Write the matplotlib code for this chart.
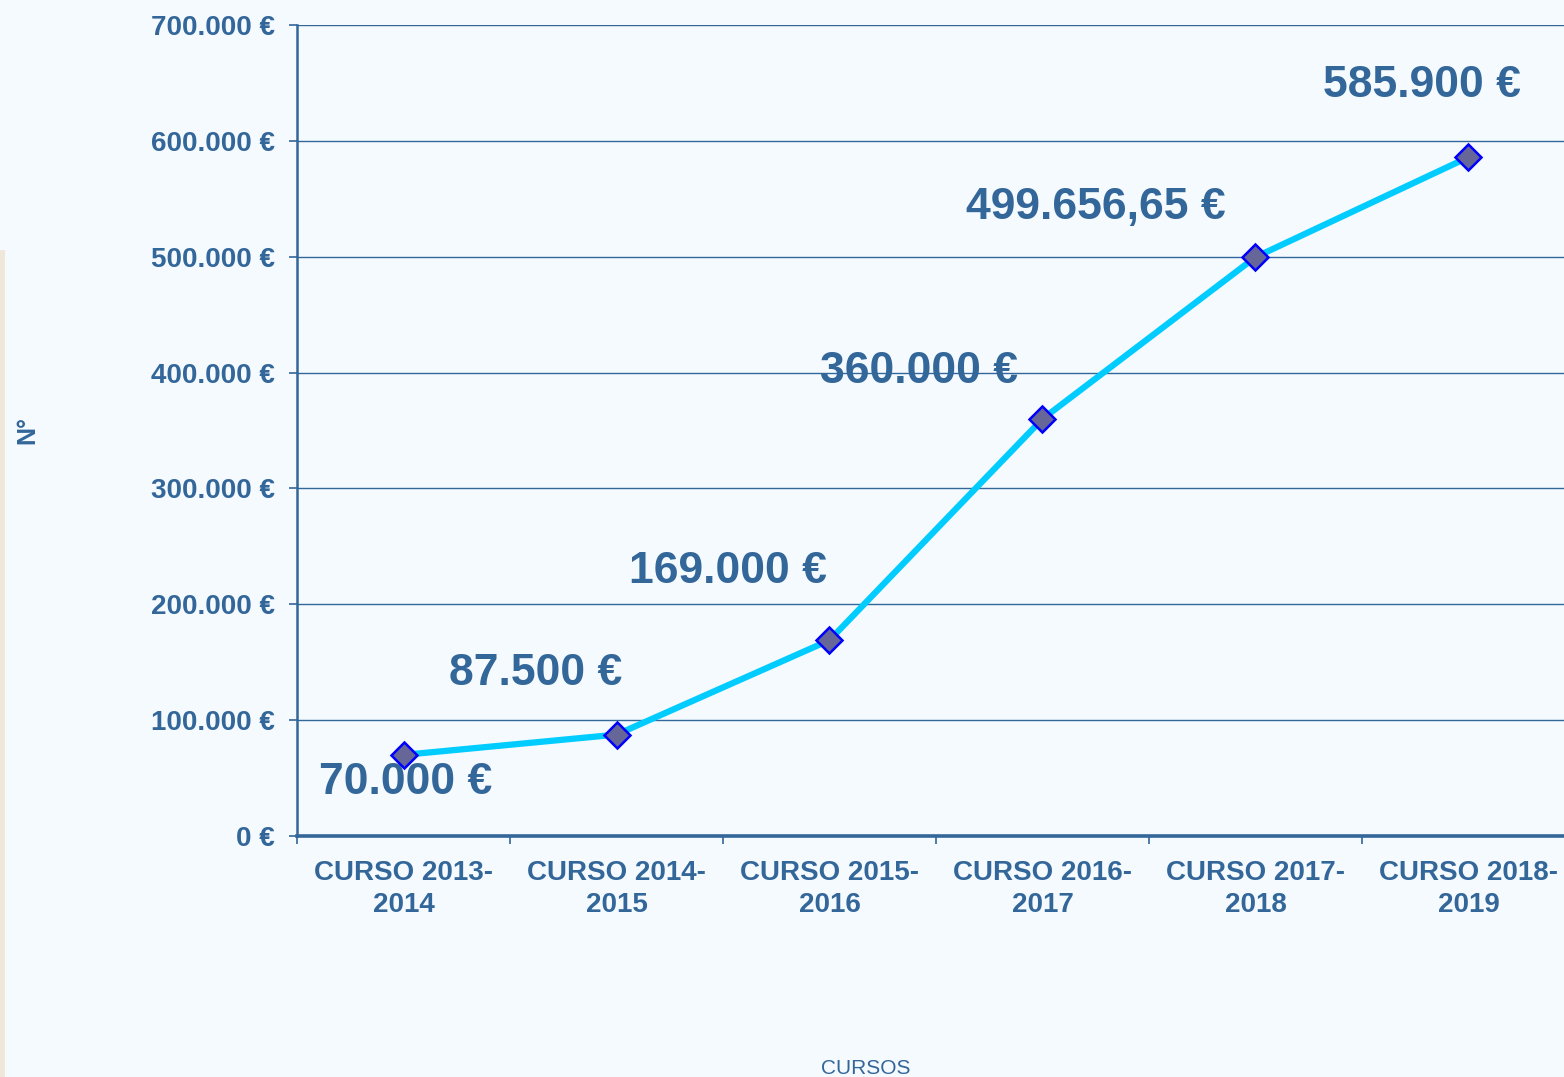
import matplotlib
matplotlib.use("Agg")
import matplotlib.pyplot as plt
from matplotlib.patches import Rectangle

categories = ["CURSO 2013-\n2014", "CURSO 2014-\n2015", "CURSO 2015-\n2016",
              "CURSO 2016-\n2017", "CURSO 2017-\n2018", "CURSO 2018-\n2019"]
values = [70000, 87500, 169000, 360000, 499656.65, 585900]
value_labels = ["70.000 €", "87.500 €", "169.000 €", "360.000 €", "499.656,65 €", "585.900 €"]
yticks = [0, 100000, 200000, 300000, 400000, 500000, 600000, 700000]
ytick_labels = ["0 €", "100.000 €", "200.000 €", "300.000 €", "400.000 €",
                "500.000 €", "600.000 €", "700.000 €"]

# label offsets in pixels relative to each point (x, y)
label_offsets = [(2, -28), (-81, 61), (-102, 69), (-123, 47), (-160, 50), (-47, 72)]

TXT = "#336699"
BG = "#F5FAFF"
plt.rcParams['font.family'] = ['Liberation Sans', 'DejaVu Sans']

fig = plt.figure(figsize=(15.64, 10.77), dpi=100, facecolor=BG)
ax = fig.add_axes([297/1564, 1-836/1077, 1278/1564, (836-25)/1077])
ax.set_facecolor(BG)

fig.patches.append(Rectangle((0, 0), 5/1564, 1-250/1077, transform=fig.transFigure,
                             facecolor="#EFE7DA", edgecolor="none", zorder=0))

x = list(range(len(values)))
ax.plot(x, values, color="#00CCFF", lw=4.5, solid_capstyle="round", zorder=3)
ax.plot(x, values, linestyle="none", marker="D", markersize=13,
        markerfacecolor="#666699", markeredgecolor="#0000FF", markeredgewidth=1.8, zorder=4)

for xi, v, lab, (dx, dy) in zip(x, values, value_labels, label_offsets):
    ax.annotate(lab, (xi, v), xytext=(dx, dy), textcoords="offset pixels",
                ha="center", va="center", fontsize=32, fontweight="bold", color=TXT)

ax.set_xlim(-0.5, len(values) - 0.5)
ax.set_ylim(0, 700000)
ax.set_yticks(yticks)
ax.set_yticklabels(ytick_labels)
ax.set_xticks(x)
ax.set_xticklabels(categories, linespacing=1.3)
ax.set_xticks([i - 0.5 for i in range(len(values) + 1)], minor=True)
ax.tick_params(axis="x", which="major", length=0, pad=17, labelsize=20, labelcolor=TXT)
ax.tick_params(axis="x", which="minor", length=6, width=1.2, color=TXT, direction="out")
for lbl in ax.get_xticklabels():
    lbl.set_fontweight("bold")
ax.tick_params(axis="y", length=6, width=1.2, color=TXT, pad=10, labelsize=20, labelcolor=TXT)
for lbl in ax.get_yticklabels():
    lbl.set_fontweight("bold")

ax.grid(axis="y", color=TXT, lw=1.0, zorder=1)
ax.set_axisbelow(True)
for s in ["top", "right"]:
    ax.spines[s].set_visible(False)
ax.spines["left"].set_color(TXT)
ax.spines["left"].set_linewidth(1.8)
ax.spines["bottom"].set_color(TXT)
ax.spines["bottom"].set_linewidth(2.6)

fig.text(866/1564, 1-1068/1077, "CURSOS", ha="center", va="center", fontsize=15, color=TXT)
fig.text(27/1564, 1-430/1077, "N°", ha="center", va="center", rotation=90,
         fontsize=18, fontweight="bold", color=TXT)

fig.savefig("out.png", dpi=100, facecolor=BG)
